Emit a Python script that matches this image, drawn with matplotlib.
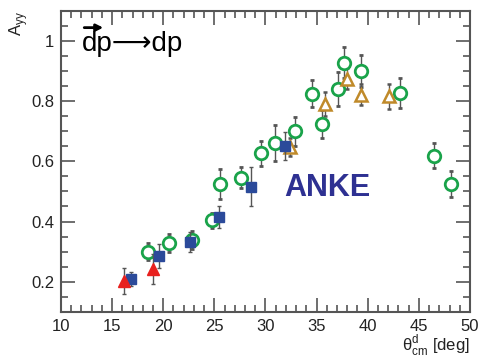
import matplotlib
matplotlib.use("Agg")
import matplotlib.pyplot as plt
from matplotlib.ticker import MultipleLocator

plt.rcParams["font.family"] = ["Liberation Sans", "DejaVu Sans"]
plt.rcParams["mathtext.fontset"] = "custom"
plt.rcParams["mathtext.rm"] = "Liberation Sans"

# red filled triangles
redX = [16.2, 19.0]
redY = [0.202, 0.241]
redErr = [0.043, 0.050]

# blue filled squares
blueX = [16.85, 19.6, 22.6, 25.5, 28.55, 31.9]
blueY = [0.208, 0.285, 0.332, 0.416, 0.516, 0.652]
blueErr = [0.024, 0.040, 0.033, 0.036, 0.066, 0.047]

# green open circles
greenX = [18.5, 20.55, 22.8, 24.8, 25.55, 27.6, 29.55, 30.95, 32.9, 34.55,
          35.5, 37.1, 37.7, 39.3, 43.2, 46.5, 48.1]
greenY = [0.299, 0.329, 0.340, 0.405, 0.525, 0.545, 0.627, 0.660, 0.700, 0.825,
          0.725, 0.841, 0.928, 0.900, 0.827, 0.619, 0.525]
greenErr = [0.028, 0.029, 0.030, 0.025, 0.050, 0.035, 0.042, 0.060, 0.048, 0.045,
            0.047, 0.058, 0.052, 0.053, 0.050, 0.042, 0.042]

# orange open triangles
orangeX = [32.4, 35.8, 37.95, 39.3, 42.1]
orangeY = [0.647, 0.791, 0.875, 0.822, 0.816]
orangeErr = [0.030, 0.040, 0.035, 0.036, 0.041]

fig = plt.figure(figsize=(4.82, 3.58), dpi=100)
ax = fig.add_axes([0.1266, 0.1293, 0.8484, 0.8397])

errStyle = dict(ls="none", ecolor="#555555", elinewidth=1.0, capsize=1.5, capthick=1.0)

ax.errorbar(greenX, greenY, yerr=greenErr, fmt="o", ms=9, mfc="white", mec="#1aa34a",
            mew=2.0, zorder=3, **errStyle)
ax.errorbar(orangeX, orangeY, yerr=orangeErr, fmt="^", ms=9, mfc="white", mec="#c08a2a",
            mew=1.8, zorder=3, **errStyle)
ax.errorbar(blueX, blueY, yerr=blueErr, fmt="s", ms=7.5, mfc="#2b4a9a", mec="#2b4a9a",
            zorder=4, **errStyle)
ax.errorbar(redX, redY, yerr=redErr, fmt="^", ms=8, mfc="#e8201e", mec="#e8201e",
            zorder=4, **errStyle)

ax.set_xlim(10, 50)
ax.set_ylim(0.1, 1.1)
ax.xaxis.set_major_locator(MultipleLocator(5))
ax.xaxis.set_minor_locator(MultipleLocator(1))
ax.yaxis.set_major_locator(MultipleLocator(0.2))
ax.yaxis.set_minor_locator(MultipleLocator(0.05))
ax.yaxis.set_major_formatter(plt.FuncFormatter(lambda v, p: "%g" % round(v, 2)))

for s in ax.spines.values():
    s.set_color("#555555")
    s.set_linewidth(1.5)
ax.tick_params(which="both", direction="in", top=True, right=True, color="#555555",
               labelsize=12, labelcolor="#222222", width=1.2)
ax.tick_params(which="major", length=10, pad=5)
ax.tick_params(which="minor", length=5)

ax.text(1.0, -0.068, r"θ$^{\rm d}_{\rm cm}$ [deg]", transform=ax.transAxes,
        ha="right", va="top", fontsize=12, color="#222222")
ax.text(-0.105, 1.0, r"A$_{\rm yy}$", transform=ax.transAxes,
        ha="center", va="top", rotation=90, fontsize=12, color="#222222")

ax.text(0.05, 0.89, "dp\u27f6dp", transform=ax.transAxes, ha="left", va="center",
        fontsize=20, color="black")
ax.annotate("", xy=(0.11, 0.945), xytext=(0.05, 0.945), xycoords="axes fraction",
            arrowprops=dict(arrowstyle="-|>", color="black", lw=2, mutation_scale=10))

ax.text(0.545, 0.41, "ANKE", transform=ax.transAxes, ha="left", va="center",
        fontsize=22, fontweight="bold", color="#2e3192")

fig.savefig("out.png", dpi=100)
